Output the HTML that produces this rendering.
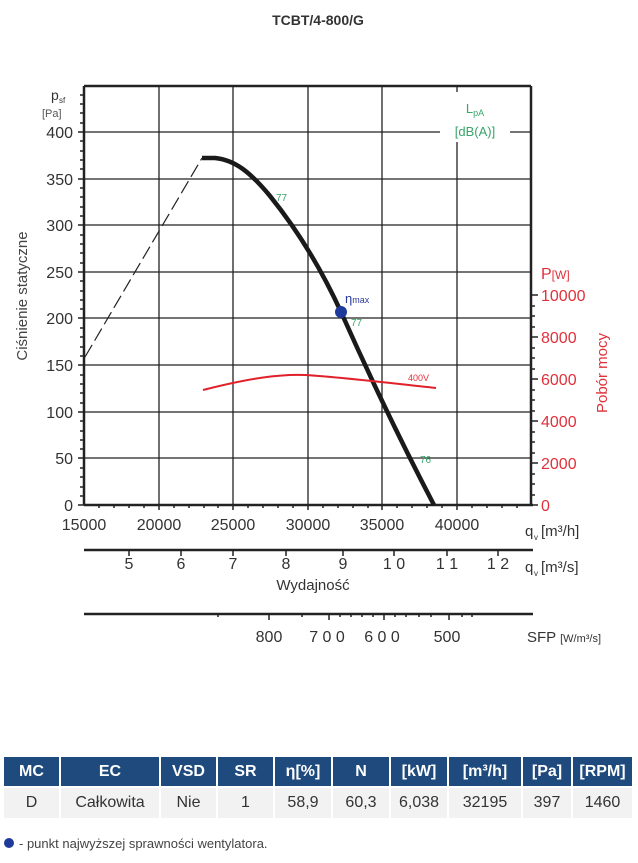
<!DOCTYPE html>
<html><head><meta charset="utf-8"><style>
body{margin:0;background:#fff;width:638px;height:863px;overflow:hidden;font-family:"Liberation Sans",sans-serif}
svg text{font-family:"Liberation Sans",sans-serif}
table{position:absolute;left:4px;top:757px;border-collapse:collapse;font-size:16px;table-layout:fixed;width:628px}
th,td{box-sizing:border-box}
th{background:#1e4a7e;color:#fff;height:30px;padding:0;font-weight:bold;border-right:2px solid #fff}
td{background:#f2f2f2;color:#333;height:31px;padding:0;text-align:center;border-right:2px solid #fff;border-top:2px solid #fff}
</style></head><body>
<svg width="638" height="863" style="position:absolute;left:0;top:0">
<text x="318" y="25" text-anchor="middle" font-size="14" font-weight="bold" fill="#333">TCBT/4-800/G</text>
<g stroke="#222" stroke-width="1.3">
<line x1="84" y1="86" x2="531" y2="86" stroke-width="2.5"/>
<line x1="84" y1="132" x2="531" y2="132"/><line x1="84" y1="179" x2="531" y2="179"/>
<line x1="84" y1="225" x2="531" y2="225"/><line x1="84" y1="272" x2="531" y2="272"/>
<line x1="84" y1="318" x2="531" y2="318"/><line x1="84" y1="365" x2="531" y2="365"/>
<line x1="84" y1="412" x2="531" y2="412"/><line x1="84" y1="458" x2="531" y2="458"/>
<line x1="159" y1="86" x2="159" y2="505"/><line x1="233" y1="86" x2="233" y2="505"/>
<line x1="308" y1="86" x2="308" y2="505"/><line x1="382" y1="86" x2="382" y2="505"/>
<line x1="457" y1="86" x2="457" y2="505"/>
<line x1="84" y1="86" x2="84" y2="505" stroke-width="2.5"/>
<line x1="531" y1="86" x2="531" y2="505" stroke-width="2.5"/>
<line x1="84" y1="505" x2="533" y2="505" stroke-width="2.5"/>
<line x1="84" y1="550" x2="533" y2="550" stroke-width="2.5"/>
<line x1="84" y1="614" x2="533" y2="614" stroke-width="2.5"/>
</g>
<rect x="440" y="92" width="70" height="50" fill="#fff"/>
<g stroke="#222" stroke-width="1.5">
<path d="M80 95h4M80 104h4M80 113h4M80 123h4M80 141h4M80 151h4M80 160h4M80 169h4M80 188h4M80 197h4M80 207h4M80 216h4M80 235h4M80 244h4M80 253h4M80 263h4M80 281h4M80 291h4M80 300h4M80 309h4M80 328h4M80 337h4M80 347h4M80 356h4M80 375h4M80 384h4M80 393h4M80 403h4M80 421h4M80 431h4M80 440h4M80 449h4M80 468h4M80 477h4M80 487h4M80 496h4"/>
<path d="M78 132h6M78 179h6M78 225h6M78 272h6M78 318h6M78 365h6M78 412h6M78 458h6M78 505h6"/>
<path d="M531 295h7M531 337h7M531 379h7M531 421h7M531 463h7M531 505h7"/>
<path d="M531 306h4M531 316h4M531 327h4M531 348h4M531 358h4M531 369h4M531 390h4M531 400h4M531 411h4M531 432h4M531 442h4M531 453h4M531 474h4M531 484h4M531 495h4"/>
<path d="M159 505v5M233 505v5M308 505v5M382 505v5M457 505v5M99 505v3M114 505v3M129 505v3M144 505v3M174 505v3M189 505v3M204 505v3M218 505v3M248 505v3M263 505v3M278 505v3M293 505v3M323 505v3M338 505v3M353 505v3M368 505v3M397 505v3M412 505v3M427 505v3M442 505v3M472 505v3M487 505v3M502 505v3M517 505v3"/>
<path d="M129 550v6M181 550v6M233 550v6M286 550v6M343 550v6M394 550v6M447 550v6M498 550v6"/>
<path d="M269 614v6M329 614v6M384 614v6M449 614v6M218 614v3M302 614v3M340 614v3M351 614v3M362 614v3M373 614v3M395 614v3M406 614v3M419 614v3M431 614v3M462 614v3M472 614v3"/>
</g>
<g font-size="16" fill="#333" text-anchor="end">
<text x="73" y="138">400</text><text x="73" y="185">350</text><text x="73" y="231">300</text>
<text x="73" y="278">250</text><text x="73" y="324">200</text><text x="73" y="371">150</text>
<text x="73" y="418">100</text><text x="73" y="464">50</text><text x="73" y="511">0</text>
</g>
<text x="51" y="100" font-size="14" fill="#333">p</text><text x="59" y="103" font-size="8" fill="#333">sf</text>
<text x="42" y="117" font-size="11" fill="#555">[Pa]</text>
<text transform="translate(27,296) rotate(-90)" text-anchor="middle" font-size="15" fill="#444">Ciśnienie statyczne</text>
<g font-size="16" fill="#333" text-anchor="middle">
<text x="84" y="530">15000</text><text x="159" y="530">20000</text><text x="233" y="530">25000</text>
<text x="308" y="530">30000</text><text x="382" y="530">35000</text><text x="457" y="530">40000</text>
<text x="129" y="569">5</text><text x="181" y="569">6</text><text x="233" y="569">7</text><text x="286" y="569">8</text>
<text x="343" y="569">9</text><text x="394" y="569">1 0</text><text x="447" y="569">1 1</text><text x="498" y="569">1 2</text>
<text x="313" y="590" font-size="15">Wydajność</text>
<text x="269" y="642">800</text><text x="327" y="642">7 0 0</text><text x="382" y="642">6 0 0</text><text x="447" y="642">500</text>
</g>
<g fill="#333" font-size="15">
<text x="525" y="536">q</text><text x="534" y="540" font-size="8">v</text><text x="541" y="536">[m³/h]</text>
<text x="525" y="572">q</text><text x="534" y="576" font-size="8">v</text><text x="541" y="572">[m³/s]</text>
<text x="527" y="642">SFP <tspan font-size="11">[W/m³/s]</tspan></text>
</g>
<g fill="#e0303a" font-size="16">
<text x="541" y="279">P<tspan font-size="12">[W]</tspan></text>
<text x="541" y="301">10000</text><text x="541" y="343">8000</text><text x="541" y="385">6000</text>
<text x="541" y="427">4000</text><text x="541" y="469">2000</text><text x="541" y="511">0</text>
<text transform="translate(607,373) rotate(-90)" text-anchor="middle" font-size="15">Pobór mocy</text>
</g>
<g fill="#3aa56a" font-size="13" text-anchor="middle">
<text x="475" y="113">L<tspan font-size="9" dy="3">pA</tspan></text>
<text x="475" y="136">[dB(A)]</text>
</g>
<g fill="#3aa56a" font-size="10"><text x="276" y="201">77</text><text x="351" y="326">77</text><text x="420" y="463">76</text></g>
<path d="M85 357 L202 158" stroke="#222" stroke-width="1.2" fill="none" stroke-dasharray="14,5"/>
<path d="M202 158 L215 158 C235 160 250 172 270 196 C295 227 320 266 341 312 C370 377 400 440 434 505" stroke="#1a1a1a" stroke-width="4.5" fill="none"/>
<path d="M203 390 C250 378 280 374 305 375 C340 377 380 382 436 388" stroke="#e0202a" stroke-width="2" fill="none"/>
<text x="408" y="381" font-size="9" fill="#e0303a">400V</text>
<circle cx="341" cy="312" r="6" fill="#1e3a9a"/>
<text x="345" y="303" font-size="13" fill="#2a3a9a">η<tspan font-size="9">max</tspan></text>
<circle cx="9" cy="843" r="5" fill="#1e3a9a"/>
<text x="19" y="848" font-size="13" fill="#444">- punkt najwyższej sprawności wentylatora.</text>
</svg>
<table>
<tr><th style="width:56px">MC</th><th style="width:100px">EC</th><th style="width:57px">VSD</th><th style="width:57px">SR</th><th style="width:58px">η[%]</th><th style="width:58px">N</th><th style="width:58px">[kW]</th><th style="width:74px">[m³/h]</th><th style="width:50px">[Pa]</th><th style="width:60px;border-right:none">[RPM]</th></tr>
<tr><td>D</td><td>Całkowita</td><td>Nie</td><td>1</td><td>58,9</td><td>60,3</td><td>6,038</td><td>32195</td><td>397</td><td style="border-right:none">1460</td></tr>
</table>
</body></html>
